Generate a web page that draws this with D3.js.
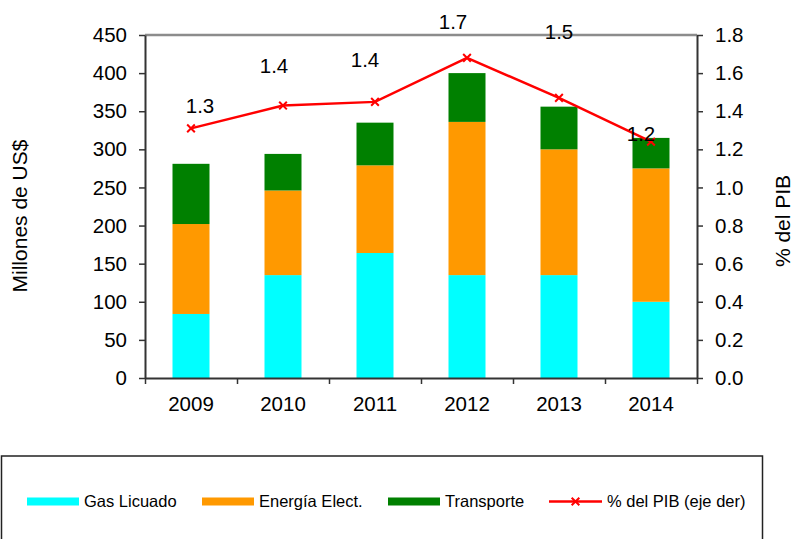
<!DOCTYPE html>
<html>
<head>
<meta charset="utf-8">
<script src="https://cdn.jsdelivr.net/npm/d3@7"></script>
<style>
  body { margin: 0; background: #fff; }
  svg text { font-family: "Liberation Sans", Arial, sans-serif; fill: #000; }
</style>
</head>
<body>
<div class="chart"></div>
<script>
// data
const years = ["2009", "2010", "2011", "2012", "2013", "2014"];
const gasLicuado = [84, 135, 164, 135, 135, 100];
const energiaElect = [118, 111, 115, 201, 165, 175];
const transporte = [79, 48, 56, 64, 56, 40];
const pctPib = [1.31, 1.43, 1.449, 1.68, 1.47, 1.24];
const leftTicks = [0, 50, 100, 150, 200, 250, 300, 350, 400, 450];
const rightTicks = [0, 0.2, 0.4, 0.6, 0.8, 1.0, 1.2, 1.4, 1.6, 1.8];
const seriesNames = ["Gas Licuado", "Energía Elect.", "Transporte"];
const seriesColors = ["#00ffff", "#ff9900", "#008000"];

// data labels were dragged around in the original, so keep their offsets here
const labelOffsets = [[9, -23], [-9, -40], [-10, -42], [-14, -36], [0, -66], [-10, -8]];

const totalWidth = 796, totalHeight = 539;
const margin = { top: 35, left: 145 };
const width = 552, height = 343;

const svg = d3.select(".chart").append("svg")
  .attr("width", totalWidth)
  .attr("height", totalHeight);

const g = svg.append("g")
  .attr("transform", `translate(${margin.left},${margin.top})`);

//scales
const xBand = d3.scaleBand().domain(years).range([0, width]).paddingInner(0.6).paddingOuter(0.3);
const xEdge = d3.scaleLinear().domain([0, years.length]).range([0, width]);
const yLeft = d3.scaleLinear().domain([0, 450]).range([height, 0]);
const yRight = d3.scaleLinear().domain([0, 1.8]).range([height, 0]);
const xCenter = (i) => xEdge(i + 0.5);

//stack the bars
const table = years.map((y, i) => ({
  year: y,
  "Gas Licuado": gasLicuado[i],
  "Energía Elect.": energiaElect[i],
  "Transporte": transporte[i]
}));
const stacked = d3.stack().keys(seriesNames)(table);
const barWidth = 37;

g.selectAll("g.layer")
  .data(stacked)
  .enter()
  .append("g")
  .attr("class", "layer")
  .attr("fill", (d, i) => seriesColors[i])
  .selectAll("rect")
  .data((d) => d)
  .enter()
  .append("rect")
  .attr("x", (d, i) => xCenter(i) - barWidth / 2)
  .attr("y", (d) => yLeft(d[1]))
  .attr("width", barWidth)
  .attr("height", (d) => yLeft(d[0]) - yLeft(d[1]));

//top border of the plot area
g.append("line")
  .attr("x1", 0).attr("x2", width)
  .attr("y1", 0).attr("y2", 0)
  .attr("stroke", "#8c8c8c")
  .attr("stroke-width", 2.5);

//axes
const axisStyle = (sel, size) => {
  sel.selectAll("path").attr("stroke", "#333").attr("stroke-width", 2);
  sel.selectAll("line").attr("stroke", "#333").attr("stroke-width", 1.5);
  sel.selectAll("text").style("font-size", size + "px").attr("fill", "#000");
};

g.append("g")
  .call(d3.axisLeft(yLeft).tickValues(leftTicks).tickSize(6).tickSizeOuter(0).tickPadding(12))
  .call(axisStyle, 20.5);

g.append("g")
  .attr("transform", `translate(${width},0)`)
  .call(d3.axisRight(yRight).tickValues(rightTicks).tickFormat(d3.format(".1f")).tickSize(6).tickSizeOuter(0).tickPadding(12))
  .call(axisStyle, 20.5);

g.append("g")
  .attr("transform", `translate(0,${height})`)
  .call(d3.axisBottom(xEdge).tickValues(d3.range(0, years.length + 1)).tickFormat("").tickSize(6).tickSizeOuter(0))
  .call(axisStyle, 20.5);

g.append("g")
  .attr("transform", `translate(0,${height})`)
  .call(d3.axisBottom(xBand).tickSize(0).tickPadding(18))
  .call((s) => s.select("path").remove())
  .call(axisStyle, 20.5);

//axis titles
svg.append("text")
  .attr("transform", "translate(27,216) rotate(-90)")
  .attr("text-anchor", "middle")
  .style("font-size", "21px")
  .text("Millones de US$");

svg.append("text")
  .attr("transform", "translate(790,221) rotate(-90)")
  .attr("text-anchor", "middle")
  .style("font-size", "21px")
  .text("% del PIB");

//% del PIB line
const line = d3.line()
  .x((d, i) => xCenter(i))
  .y((d) => yRight(d));

g.append("path")
  .datum(pctPib)
  .attr("fill", "none")
  .attr("stroke", "#ff0000")
  .attr("stroke-width", 2.5)
  .attr("d", line);

const cross = d3.symbol().type(d3.symbolX).size(40);
g.selectAll("path.marker")
  .data(pctPib)
  .enter()
  .append("path")
  .attr("class", "marker")
  .attr("d", cross)
  .attr("transform", (d, i) => `translate(${xCenter(i)},${yRight(d)})`)
  .attr("fill", "none")
  .attr("stroke", "#ff0000")
  .attr("stroke-width", 2);

g.selectAll("text.dlabel")
  .data(pctPib)
  .enter()
  .append("text")
  .attr("class", "dlabel")
  .attr("x", (d, i) => xCenter(i) + labelOffsets[i][0])
  .attr("y", (d, i) => yRight(d) + labelOffsets[i][1])
  .attr("dy", "0.36em")
  .attr("text-anchor", "middle")
  .style("font-size", "20.5px")
  .text((d) => d3.format(".1f")(d));

//legend
const legend = svg.append("g");
legend.append("rect")
  .attr("x", 1.5).attr("y", 456)
  .attr("width", 761).attr("height", 100)
  .attr("fill", "none")
  .attr("stroke", "#222")
  .attr("stroke-width", 1.5);

const legendX = [27, 202, 388];
const legendY = 501.5;

legend.selectAll("rect.swatch")
  .data(seriesNames)
  .enter()
  .append("rect")
  .attr("class", "swatch")
  .attr("x", (d, i) => legendX[i])
  .attr("y", legendY - 4)
  .attr("width", 52)
  .attr("height", 8)
  .attr("fill", (d, i) => seriesColors[i]);

legend.selectAll("text.ltext")
  .data(seriesNames)
  .enter()
  .append("text")
  .attr("class", "ltext")
  .attr("x", (d, i) => legendX[i] + 57)
  .attr("y", legendY)
  .attr("dy", "0.36em")
  .style("font-size", "16.5px")
  .text((d) => d);

legend.append("line")
  .attr("x1", 549).attr("x2", 602)
  .attr("y1", legendY).attr("y2", legendY)
  .attr("stroke", "#ff0000")
  .attr("stroke-width", 2.5);

legend.append("path")
  .attr("d", cross)
  .attr("transform", `translate(575.5,${legendY})`)
  .attr("fill", "none")
  .attr("stroke", "#ff0000")
  .attr("stroke-width", 2);

legend.append("text")
  .attr("x", 607)
  .attr("y", legendY)
  .attr("dy", "0.36em")
  .style("font-size", "16.5px")
  .text("% del PIB (eje der)");
</script>
</body>
</html>
